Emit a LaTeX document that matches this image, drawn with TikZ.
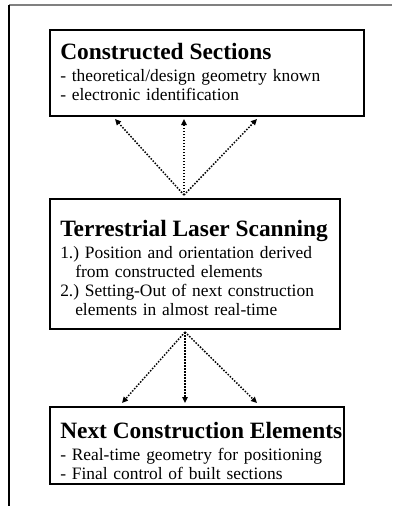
\documentclass[tikz,border=0pt]{standalone}
\usepackage{fontspec}
\setmainfont{Liberation Serif}
\usepackage{tikz}
\usetikzlibrary{arrows.meta,positioning}

\newcommand{\boxhead}[1]{\rlap{\fontsize{23.4}{24}\selectfont\bfseries #1}}

\begin{document}
\begin{tikzpicture}[
    x=1pt,y=-1pt,
    box/.style={draw,line width=1.5pt,anchor=north west,align=left,
                inner xsep=10.5pt,inner ysep=0pt,
                font=\fontsize{17.4}{19}\selectfont\frenchspacing},
    arrow/.style={-{Triangle[length=6pt,width=5.5pt]},line width=1.5pt,
                  dash pattern=on 1.5pt off 1.5pt}
]
\useasboundingbox (0,0) rectangle (392,506);
\draw[line width=1.5pt,gray] (9,5) -- (392,5);
\draw[line width=1.5pt] (9,5) -- (9,506);

\node[box,text width=293pt,text height=30pt,text depth=56pt] (sections) at (49,29)
    {\boxhead{Constructed Sections}\\[3pt]
     - theoretical/design geometry known\\
     - electronic identification};
\node[box,text width=269pt,text height=38pt,text depth=92pt] (tls) at (49,198)
    {\boxhead{Terrestrial Laser Scanning}\\[3pt]
     1.) Position and orientation derived\\
     \hspace*{15pt}from constructed elements\\
     2.) Setting-Out of next construction\\
     \hspace*{15pt}elements in almost real-time};
\node[box,text width=273pt,text height=32pt,text depth=45pt] (next) at (49,406)
    {\boxhead{Next Construction Elements}\\[3pt]
     - Real-time geometry for positioning\\
     - Final control of built sections};

% dotted links
\coordinate (up) at (184,195);
\coordinate (upl) at (115,119);
\coordinate (upm) at (184,119);
\coordinate (upr) at (257,119);
\coordinate (down) at (185,332);
\coordinate (downl) at (122,403);
\coordinate (downm) at (185,403);
\coordinate (downr) at (257,403);
\foreach \t in {upl,upm,upr} \draw[arrow] (up) -- (\t);
\foreach \t in {downl,downm,downr} \draw[arrow] (down) -- (\t);
\end{tikzpicture}
\end{document}
